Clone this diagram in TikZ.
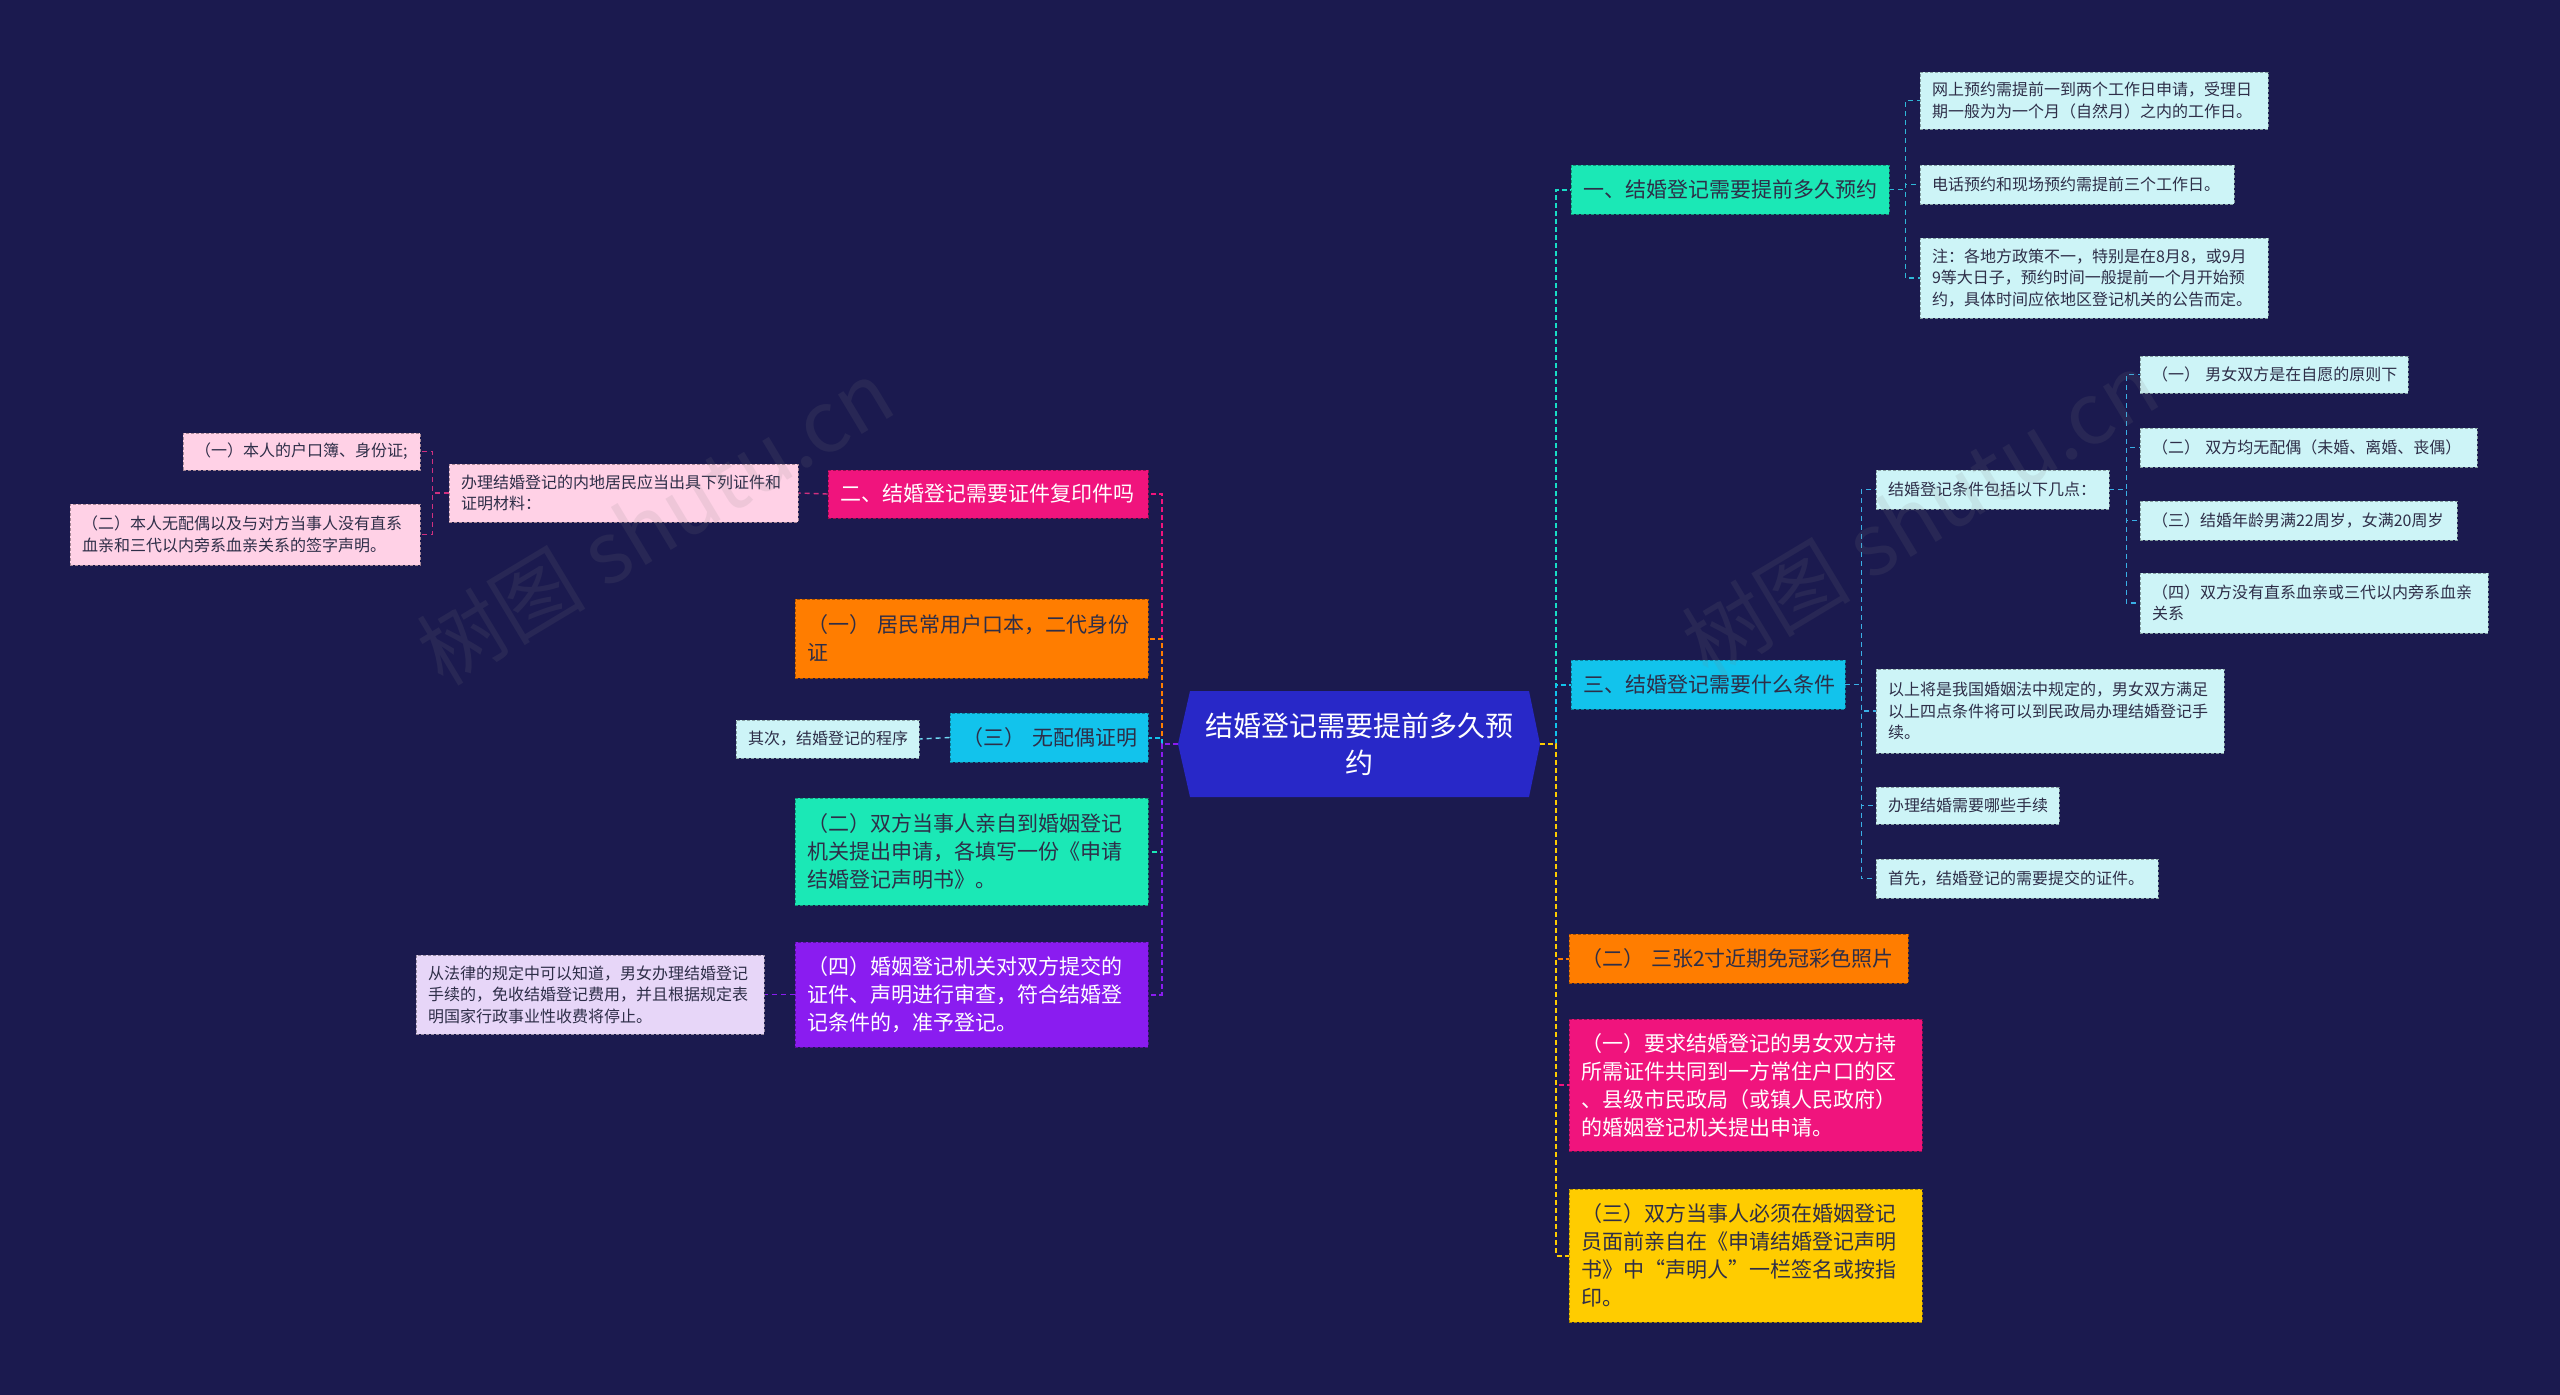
\documentclass[tikz,border=0pt]{standalone}
\usepackage{fontspec}
\setmainfont{Noto Sans CJK SC}
\definecolor{bg}{HTML}{1B1A4F}
\definecolor{rootc}{HTML}{2828C8}
\definecolor{cgreen}{HTML}{1BE8B6}
\definecolor{ccyan}{HTML}{12C3EC}
\definecolor{corange}{HTML}{FF7D00}
\definecolor{cmag}{HTML}{F0147D}
\definecolor{cyellow}{HTML}{FFCC00}
\definecolor{cpurple}{HTML}{8A1CF0}
\definecolor{lcyan}{HTML}{CDF4F7}
\definecolor{lpink}{HTML}{FFD1E6}
\definecolor{llav}{HTML}{E7D6F8}
\definecolor{dtext}{HTML}{2E2E48}
\definecolor{cline1}{HTML}{2FB8D8}
\definecolor{cline3}{HTML}{3AB0E6}
\definecolor{cline2}{HTML}{D0307F}
\pgfdeclarelayer{back}
\pgfdeclarelayer{lines}
\pgfsetlayers{back,lines,main}
\begin{document}
\begin{tikzpicture}[x=1pt,y=-1pt,
  bx/.style={rectangle, fill=#1, draw=#1!65!black, dash pattern=on 3pt off 2pt, line width=0.8pt, inner xsep=12pt, inner ysep=2pt, align=left, text=dtext},
  big/.style={font=\fontsize{21pt}{28pt}\selectfont},
  small/.style={font=\fontsize{16pt}{21.5pt}\selectfont},
  mainconn/.style={draw=#1, line width=2pt, dash pattern=on 5pt off 3pt},
  subconn/.style={draw=#1, line width=1.4pt, dash pattern=on 5pt off 4pt},
  wm/.style={text=gray, opacity=0.13, rotate=31, font=\fontsize{85pt}{90pt}\selectfont}
]
\useasboundingbox (0,0) rectangle (2560,1395);
\begin{pgfonlayer}{back}
\fill[bg] (0,0) rectangle (2560,1395);
\end{pgfonlayer}

% root
\fill[rootc] (1178,744) -- (1190,691) -- (1529,691) -- (1540,744) -- (1529,797) -- (1190,797) -- cycle;
\node[minimum width=362pt, minimum height=106pt, align=center, text=white, inner sep=0pt,
  font=\fontsize{28pt}{37pt}\selectfont] (root) at (1359,744) {结婚登记需要提前多久预\\约};

% left branches
\node[bx=cmag, big, text=white, minimum width=320pt, minimum height=48pt, text width=296pt] (L1) at (988,494) {二、结婚登记需要证件复印件吗};
\node[bx=corange, big, minimum width=353pt, minimum height=79pt, text width=329pt] (L2) at (971.5,638.5) {（一）~居民常用户口本，二代身份\\证};
\node[bx=ccyan, big, minimum width=198pt, minimum height=49pt, text width=174pt] (L3) at (1049,737.5) {（三）~无配偶证明};
\node[bx=cgreen, big, minimum width=353pt, minimum height=107pt, text width=329pt] (L4) at (971.5,851.5) {（二）双方当事人亲自到婚姻登记\\机关提出申请，各填写一份《申请\\结婚登记声明书》。};
\node[bx=cpurple, big, text=white, minimum width=353pt, minimum height=105pt, text width=329pt] (L5) at (971.5,994.5) {（四）婚姻登记机关对双方提交的\\证件、声明进行审查，符合结婚登\\记条件的，准予登记。};

\node[bx=lpink, small, minimum width=349pt, minimum height=58pt, text width=325pt] (L1a) at (623.5,493) {办理结婚登记的内地居民应当出具下列证件和\\证明材料：};
\node[bx=lpink, small, minimum width=237pt, minimum height=37pt, text width=213pt] (L1a1) at (301.5,451.5) {（一）本人的户口簿、身份证;};
\node[bx=lpink, small, minimum width=350pt, minimum height=61pt, text width=326pt] (L1a2) at (245,534.5) {（二）本人无配偶以及与对方当事人没有直系\\血亲和三代以内旁系血亲关系的签字声明。};
\node[bx=lcyan, small, minimum width=183pt, minimum height=38pt, text width=159pt] (L3a) at (827.5,739) {其次，结婚登记的程序};
\node[bx=llav, small, minimum width=348pt, minimum height=79pt, text width=324pt] (L5a) at (590,994.5) {从法律的规定中可以知道，男女办理结婚登记\\手续的，免收结婚登记费用，并且根据规定表\\明国家行政事业性收费将停止。};

% right branches
\node[bx=cgreen, big, minimum width=318pt, minimum height=49pt, text width=294pt] (R1) at (1730,189.5) {一、结婚登记需要提前多久预约};
\node[bx=ccyan, big, minimum width=274pt, minimum height=49pt, text width=250pt] (R3) at (1708,684.5) {三、结婚登记需要什么条件};
\node[bx=corange, big, minimum width=339pt, minimum height=49pt, text width=315pt] (Rii) at (1738.5,958.5) {（二）~三张2寸近期免冠彩色照片};
\node[bx=cmag, big, text=white, minimum width=353pt, minimum height=132pt, text width=329pt] (Ri) at (1745.5,1085) {（一）要求结婚登记的男女双方持\\所需证件共同到一方常住户口的区\\、县级市民政局（或镇人民政府）\\的婚姻登记机关提出申请。};
\node[bx=cyellow, big, minimum width=353pt, minimum height=133pt, text width=329pt] (Riii) at (1745.5,1255.5) {（三）双方当事人必须在婚姻登记\\员面前亲自在《申请结婚登记声明\\书》中“声明人”一栏签名或按指\\印。};

\node[bx=lcyan, small, minimum width=348pt, minimum height=57pt, text width=324pt] (R1a) at (2094,100.5) {网上预约需提前一到两个工作日申请，受理日\\期一般为为一个月（自然月）之内的工作日。};
\node[bx=lcyan, small, minimum width=314pt, minimum height=39pt, text width=290pt] (R1b) at (2077,184.5) {电话预约和现场预约需提前三个工作日。};
\node[bx=lcyan, small, minimum width=348pt, minimum height=80pt, text width=324pt] (R1c) at (2094,278) {注：各地方政策不一，特别是在8月8，或9月\\9等大日子，预约时间一般提前一个月开始预\\约，具体时间应依地区登记机关的公告而定。};

\node[bx=lcyan, small, minimum width=233pt, minimum height=39pt, text width=209pt] (R3a) at (1992.5,489.5) {结婚登记条件包括以下几点：};
\node[bx=lcyan, small, minimum width=348pt, minimum height=84pt, text width=324pt] (R3b) at (2050,711) {以上将是我国婚姻法中规定的，男女双方满足\\以上四点条件将可以到民政局办理结婚登记手\\续。};
\node[bx=lcyan, small, minimum width=183pt, minimum height=37pt, text width=159pt] (R3c) at (1967.5,805.5) {办理结婚需要哪些手续};
\node[bx=lcyan, small, minimum width=282pt, minimum height=39pt, text width=258pt] (R3d) at (2017,878.5) {首先，结婚登记的需要提交的证件。};

\node[bx=lcyan, small, minimum width=268pt, minimum height=37pt, text width=244pt] (R3a1) at (2274,374.5) {（一）~男女双方是在自愿的原则下};
\node[bx=lcyan, small, minimum width=337pt, minimum height=39pt, text width=313pt] (R3a2) at (2308.5,447.5) {（二）~双方均无配偶（未婚、离婚、丧偶）};
\node[bx=lcyan, small, minimum width=317pt, minimum height=39pt, text width=293pt] (R3a3) at (2298.5,520.5) {（三）结婚年龄男满22周岁，女满20周岁};
\node[bx=lcyan, small, minimum width=348pt, minimum height=60pt, text width=324pt] (R3a4) at (2314,603) {（四）双方没有直系血亲或三代以内旁系血亲\\关系};

% connectors
\begin{pgfonlayer}{lines}
\draw[mainconn=cmag] (root.west) -- ++(-16,0) |- (L1.east);
\draw[mainconn=corange] (root.west) -- ++(-16,0) |- (L2.east);
\draw[mainconn=ccyan] (root.west) -- ++(-16,0) |- (L3.east);
\draw[mainconn=cgreen] (root.west) -- ++(-16,0) |- (L4.east);
\draw[mainconn=cpurple] (root.west) -- ++(-16,0) |- (L5.east);

\draw[mainconn=cgreen!70!ccyan] (root.east) -- ++(16,0) |- (R1.west);
\draw[mainconn=ccyan] (root.east) -- ++(16,0) |- (R3.west);
\draw[mainconn=corange] (root.east) -- ++(16,0) |- (Rii.west);
\draw[mainconn=cmag] (root.east) -- ++(16,0) |- (Ri.west);
\draw[mainconn=cyellow] (root.east) -- ++(16,0) |- (Riii.west);

\draw[subconn=cline2] (L1.west) -- (L1a.east);
\draw[subconn=cline2] (L1a.west) -- ++(-16,0) |- (L1a1.east);
\draw[subconn=cline2] (L1a.west) -- ++(-16,0) |- (L1a2.east);
\draw[subconn=ccyan!60!white] (L3.west) -- (L3a.east);
\draw[subconn=cpurple] (L5.west) -- (L5a.east);

\draw[subconn=cline1] (R1.east) -- ++(16,0) |- (R1a.west);
\draw[subconn=cline1] (R1.east) -- ++(16,0) |- (R1b.west);
\draw[subconn=cline1] (R1.east) -- ++(16,0) |- (R1c.west);
\draw[subconn=cline3] (R3.east) -- ++(16,0) |- (R3a.west);
\draw[subconn=cline3] (R3.east) -- ++(16,0) |- (R3b.west);
\draw[subconn=cline3] (R3.east) -- ++(16,0) |- (R3c.west);
\draw[subconn=cline3] (R3.east) -- ++(16,0) |- (R3d.west);
\draw[subconn=cline3] (R3a.east) -- ++(17,0) |- (R3a1.west);
\draw[subconn=cline3] (R3a.east) -- ++(17,0) |- (R3a2.west);
\draw[subconn=cline3] (R3a.east) -- ++(17,0) |- (R3a3.west);
\draw[subconn=cline3] (R3a.east) -- ++(17,0) |- (R3a4.west);
\end{pgfonlayer}

% watermarks
\node[wm] (wm1) at (655,522) {树图 shutu.cn};
\node[wm] (wm2) at (1920,514) {树图 shutu.cn};
\end{tikzpicture}
\end{document}
